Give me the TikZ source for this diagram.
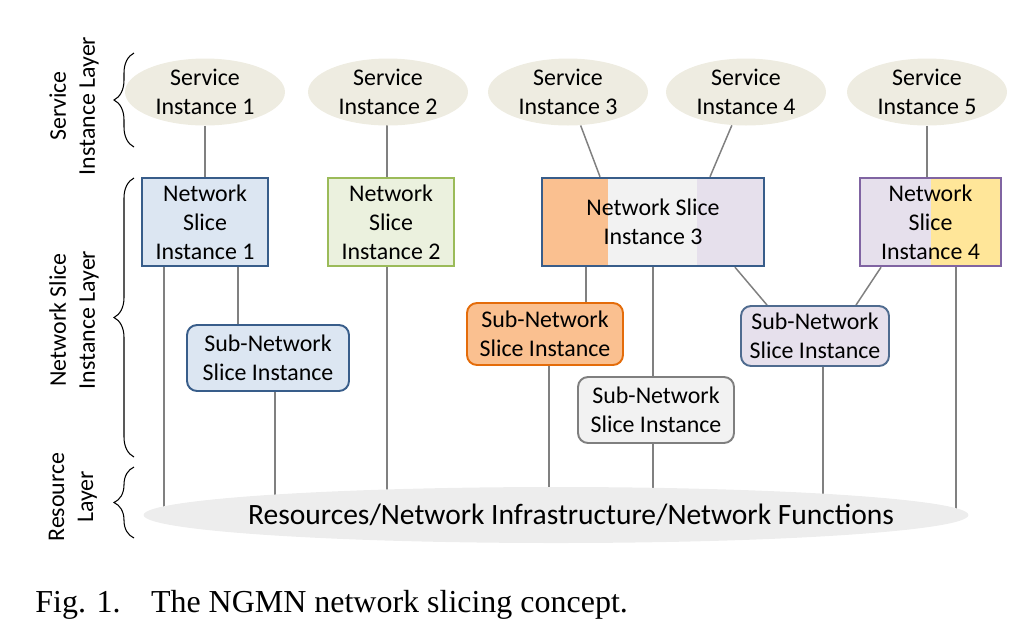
\documentclass[tikz,border=0pt]{standalone}
\usepackage{fontspec}
\setmainfont{Carlito}
\newfontfamily\capfont{Liberation Serif}
\usetikzlibrary{positioning, shapes.geometric, backgrounds, decorations.pathreplacing}
\definecolor{svcfill}{HTML}{EEECE1}
\definecolor{bluefill}{HTML}{DCE6F2}
\definecolor{blueline}{HTML}{385D8A}
\definecolor{greenfill}{HTML}{EBF1DE}
\definecolor{greenline}{HTML}{9BBB59}
\definecolor{orangefill}{HTML}{FAC090}
\definecolor{orangeline}{HTML}{E46C0A}
\definecolor{grayfill}{HTML}{F2F2F2}
\definecolor{grayline}{HTML}{7F7F7F}
\definecolor{lavfill}{HTML}{E6E0EC}
\definecolor{lavline}{HTML}{4F6B8F}
\definecolor{purpline}{HTML}{8064A2}
\definecolor{yelfill}{HTML}{FFE699}
\definecolor{resfill}{HTML}{EDEDED}
\definecolor{linkgray}{HTML}{808080}
\tikzset{
  svc/.style={ellipse, fill=svcfill, minimum width=3.2cm, minimum height=1.34cm, inner sep=0pt, align=center},
  nsi/.style={draw=blueline, line width=1.4pt, minimum height=1.76cm, inner sep=0pt, align=center},
  subnsi/.style={draw, rounded corners=0.2cm, line width=1.1pt, inner sep=0pt, align=center},
  link/.style={draw=linkgray, line width=0.85pt},
  lay/.style={decorate, decoration={brace, amplitude=0.4cm}, line width=0.6pt},
  laylab/.style={rotate=90, align=center}
}

\begin{document}
\begin{tikzpicture}[x=0.02cm, y=-0.02cm, every node/.style={font=\fontsize{13.6}{16.5}\selectfont}]
  \useasboundingbox (0,0) rectangle (1023,627);
  % service instances
  \node[svc] (si1) at (205,92) {Service\\Instance 1};
  \node[svc] (si2) at (388,92) {Service\\Instance 2};
  \node[svc] (si3) at (568,92) {Service\\Instance 3};
  \node[svc] (si4) at (746,92) {Service\\Instance 4};
  \node[svc] (si5) at (927,92) {Service\\Instance 5};
  % network slice instances
  \node[nsi, fill=bluefill, minimum width=2.52cm] (nsi1) at (205,222) {Network\\Slice\\Instance 1};
  \node[nsi, draw=greenline, fill=greenfill, minimum width=2.52cm] (nsi2) at (391,222) {Network\\Slice\\Instance 2};
  \node[nsi, minimum width=4.44cm, path picture={
      \fill[orangefill] (path picture bounding box.south west) rectangle ([xshift=1.32cm]path picture bounding box.north west);
      \fill[grayfill] ([xshift=1.32cm]path picture bounding box.south west) rectangle ([xshift=-1.34cm]path picture bounding box.north east);
      \fill[lavfill] ([xshift=-1.34cm]path picture bounding box.south east) rectangle (path picture bounding box.north east);
    }] (nsi3) at (653,222) {Network Slice\\Instance 3};
  \node[nsi, draw=purpline, minimum width=2.82cm, path picture={
      \fill[lavfill] (path picture bounding box.south west) rectangle (path picture bounding box.north);
      \fill[yelfill] (path picture bounding box.south) rectangle (path picture bounding box.north east);
    }] (nsi4) at (930.5,222) {Network\\Slice\\Instance 4};
  % sub-network slice instances
  \node[subnsi, draw=blueline, fill=bluefill, minimum width=3.24cm, minimum height=1.32cm] (sn1) at (268,358) {Sub-Network\\Slice Instance};
  \node[subnsi, draw=orangeline, fill=orangefill, minimum width=3.12cm, minimum height=1.24cm] (sn2) at (545,334) {Sub-Network\\Slice Instance};
  \node[subnsi, draw=grayline, fill=grayfill, minimum width=3.12cm, minimum height=1.32cm] (sn3) at (656,410) {Sub-Network\\Slice Instance};
  \node[subnsi, draw=lavline, fill=lavfill, minimum width=2.96cm, minimum height=1.2cm] (sn4) at (815,336) {Sub-Network\\Slice Instance};
  % resource layer
  \node[ellipse, fill=resfill, minimum width=16.5cm, minimum height=1.12cm, inner sep=0pt,
    label={[xshift=0.3cm, font=\fontsize{16.8}{19}\selectfont]center:Resources/Network Infrastructure/Network Functions}] (res) at (556,515) {};
  % feet of the vertical links
  \coordinate (f1) at (164,0);
  \coordinate (f2) at (238,0);
  \coordinate (f3) at (275,0);
  \coordinate (f4) at (387,0);
  \coordinate (f5) at (549,0);
  \coordinate (f6) at (586,0);
  \coordinate (f7) at (653,0);
  \coordinate (f8) at (823,0);
  \coordinate (f9) at (956,0);
  \begin{scope}[on background layer]
    \draw[link] (si1) -- (nsi1);
    \draw[link] (f4 |- si2) -- (f4 |- nsi2.north);
    \draw[link] (si3) -- ([xshift=-1.06cm]nsi3.north);
    \draw[link] (si4) -- ([xshift=1.14cm]nsi3.north);
    \draw[link] (si5) -- (si5 |- nsi4.north);
    \draw[link] (f1 |- nsi1.south) -- (f1 |- res.center);
    \draw[link] (f2 |- nsi1.south) -- (f2 |- sn1.north);
    \draw[link] (f3 |- sn1.south) -- (f3 |- res.center);
    \draw[link] (f4 |- nsi2.south) -- (f4 |- res.center);
    \draw[link] (f6 |- nsi3.south) -- (f6 |- sn2.north);
    \draw[link] (f5 |- sn2.south) -- (f5 |- res.center);
    \draw[link] (f7 |- nsi3.south) -- (f7 |- sn3.north);
    \draw[link] (f7 |- sn3.south) -- (f7 |- res.center);
    \draw[link] ([xshift=1.64cm]nsi3.south) -- ([xshift=-0.96cm]sn4.north);
    \draw[link] ([xshift=-0.99cm]nsi4.south) -- ([xshift=0.82cm]sn4.north);
    \draw[link] (f8 |- sn4.south) -- (f8 |- res.center);
    \draw[link] (f9 |- nsi4.south) -- (f9 |- res.center);
  \end{scope}
  % layer braces
  \draw[lay] (134,147) -- (134,53);
  \draw[lay] (134,457) -- (134,178);
  \draw[lay] (134,538) -- (134,467);
  \node[laylab] (labsvc) at (74,106) {Service\\Instance Layer};
  \node[laylab] (labnsi) at (74,320) {Network Slice\\Instance Layer};
  \node[laylab] (labres) at (73,497) {Resource\\Layer};
  % caption
  \node[anchor=west, inner sep=0pt, font=\capfont\fontsize{18.2}{21}\selectfont] (cap) at (35,605) {Fig. 1.\hspace{0.95em}The NGMN network slicing concept.};
\end{tikzpicture}
\end{document}
